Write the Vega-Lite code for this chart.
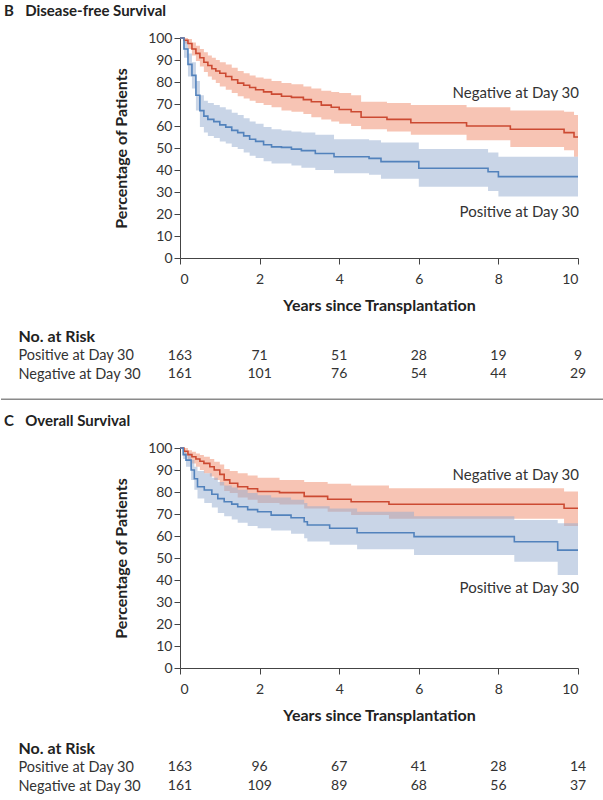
{
  "$schema": "https://vega.github.io/schema/vega-lite/v6.json",
  "padding": {"left": 0, "top": 4, "right": 0, "bottom": 0},
  "spacing": 0,
  "config": {
    "font": "Lato",
    "view": {"stroke": null},
    "axis": {
      "grid": false,
      "labelFont": "Lato",
      "labelFontSize": 14,
      "labelColor": "#333",
      "labelOverlap": false,
      "tickColor": "#444",
      "domainColor": "#444",
      "tickSize": 6,
      "titleFont": "Lato",
      "titleFontSize": 16,
      "titleFontWeight": "bold",
      "titleColor": "#222"
    },
    "title": {"font": "Lato", "fontSize": 15, "fontWeight": "bold", "color": "#222"}
  },
  "datasets": {
    "km": [
      {"panel":"B","group":"Negative","t":0,"s":100,"lo":100,"hi":100},
      {"panel":"B","group":"Negative","t":0.1,"s":99,"lo":97.5,"hi":100},
      {"panel":"B","group":"Negative","t":0.2,"s":97.5,"lo":95,"hi":99.5},
      {"panel":"B","group":"Negative","t":0.3,"s":95,"lo":92,"hi":98},
      {"panel":"B","group":"Negative","t":0.4,"s":93,"lo":89.5,"hi":96.5},
      {"panel":"B","group":"Negative","t":0.5,"s":91,"lo":87,"hi":95},
      {"panel":"B","group":"Negative","t":0.6,"s":89,"lo":84.5,"hi":93.5},
      {"panel":"B","group":"Negative","t":0.7,"s":87.5,"lo":82.5,"hi":92},
      {"panel":"B","group":"Negative","t":0.8,"s":86,"lo":81,"hi":91},
      {"panel":"B","group":"Negative","t":0.9,"s":85,"lo":79.5,"hi":90},
      {"panel":"B","group":"Negative","t":1.0,"s":84,"lo":78,"hi":89},
      {"panel":"B","group":"Negative","t":1.15,"s":82.5,"lo":76.5,"hi":88},
      {"panel":"B","group":"Negative","t":1.3,"s":81,"lo":75,"hi":86.5},
      {"panel":"B","group":"Negative","t":1.45,"s":79.5,"lo":73.5,"hi":85},
      {"panel":"B","group":"Negative","t":1.6,"s":78.5,"lo":72.5,"hi":84},
      {"panel":"B","group":"Negative","t":1.75,"s":77.5,"lo":71.5,"hi":83},
      {"panel":"B","group":"Negative","t":1.9,"s":76.5,"lo":70.5,"hi":82},
      {"panel":"B","group":"Negative","t":2.1,"s":75.5,"lo":69.5,"hi":81.5},
      {"panel":"B","group":"Negative","t":2.3,"s":74.5,"lo":68.5,"hi":80.5},
      {"panel":"B","group":"Negative","t":2.55,"s":73.5,"lo":67,"hi":79.5},
      {"panel":"B","group":"Negative","t":2.8,"s":73,"lo":66.5,"hi":79},
      {"panel":"B","group":"Negative","t":3.1,"s":72,"lo":65.5,"hi":78},
      {"panel":"B","group":"Negative","t":3.3,"s":71,"lo":64,"hi":77},
      {"panel":"B","group":"Negative","t":3.55,"s":69.5,"lo":63,"hi":76},
      {"panel":"B","group":"Negative","t":3.8,"s":68.5,"lo":62,"hi":75.5},
      {"panel":"B","group":"Negative","t":4.0,"s":67.5,"lo":61,"hi":75},
      {"panel":"B","group":"Negative","t":4.3,"s":66.5,"lo":60,"hi":74},
      {"panel":"B","group":"Negative","t":4.55,"s":64,"lo":58.5,"hi":71},
      {"panel":"B","group":"Negative","t":5.2,"s":63,"lo":57.5,"hi":70.5},
      {"panel":"B","group":"Negative","t":5.8,"s":61.5,"lo":56,"hi":69.5},
      {"panel":"B","group":"Negative","t":7.2,"s":60,"lo":53.5,"hi":68.5},
      {"panel":"B","group":"Negative","t":8.3,"s":58.5,"lo":50.5,"hi":67},
      {"panel":"B","group":"Negative","t":9.65,"s":57,"lo":49,"hi":66.5},
      {"panel":"B","group":"Negative","t":9.9,"s":55,"lo":46,"hi":65},
      {"panel":"B","group":"Negative","t":10,"s":55,"lo":46,"hi":65},

      {"panel":"B","group":"Positive","t":0,"s":100,"lo":100,"hi":100},
      {"panel":"B","group":"Positive","t":0.1,"s":95,"lo":91,"hi":98.5},
      {"panel":"B","group":"Positive","t":0.2,"s":88,"lo":82.5,"hi":93},
      {"panel":"B","group":"Positive","t":0.3,"s":83,"lo":77,"hi":89},
      {"panel":"B","group":"Positive","t":0.4,"s":74,"lo":67,"hi":80.5},
      {"panel":"B","group":"Positive","t":0.5,"s":67,"lo":59.5,"hi":74},
      {"panel":"B","group":"Positive","t":0.6,"s":64.5,"lo":57,"hi":71.5},
      {"panel":"B","group":"Positive","t":0.7,"s":63,"lo":55.5,"hi":70.5},
      {"panel":"B","group":"Positive","t":0.85,"s":62,"lo":54.5,"hi":69.5},
      {"panel":"B","group":"Positive","t":1.0,"s":60.5,"lo":53,"hi":68.5},
      {"panel":"B","group":"Positive","t":1.15,"s":59.5,"lo":52,"hi":67.5},
      {"panel":"B","group":"Positive","t":1.3,"s":58,"lo":50.5,"hi":66},
      {"panel":"B","group":"Positive","t":1.45,"s":57,"lo":49.5,"hi":65},
      {"panel":"B","group":"Positive","t":1.6,"s":55.5,"lo":48,"hi":63.5},
      {"panel":"B","group":"Positive","t":1.75,"s":54,"lo":46.5,"hi":62},
      {"panel":"B","group":"Positive","t":1.9,"s":53,"lo":45.5,"hi":61},
      {"panel":"B","group":"Positive","t":2.1,"s":51.5,"lo":44,"hi":59.5},
      {"panel":"B","group":"Positive","t":2.3,"s":50.5,"lo":43,"hi":58.5},
      {"panel":"B","group":"Positive","t":2.55,"s":50.3,"lo":43,"hi":58},
      {"panel":"B","group":"Positive","t":2.8,"s":49.5,"lo":42,"hi":57.5},
      {"panel":"B","group":"Positive","t":3.05,"s":48.8,"lo":41,"hi":57},
      {"panel":"B","group":"Positive","t":3.4,"s":47.5,"lo":40,"hi":56},
      {"panel":"B","group":"Positive","t":3.87,"s":46,"lo":38.5,"hi":54},
      {"panel":"B","group":"Positive","t":4.75,"s":45.3,"lo":37.8,"hi":53.5},
      {"panel":"B","group":"Positive","t":5.05,"s":43.8,"lo":36,"hi":52.5},
      {"panel":"B","group":"Positive","t":6.0,"s":40.8,"lo":32.4,"hi":49.5},
      {"panel":"B","group":"Positive","t":7.74,"s":39.2,"lo":30.5,"hi":48},
      {"panel":"B","group":"Positive","t":8.0,"s":37,"lo":27.9,"hi":46},
      {"panel":"B","group":"Positive","t":10,"s":37,"lo":27.9,"hi":46},

      {"panel":"C","group":"Negative","t":0,"s":100,"lo":100,"hi":100},
      {"panel":"C","group":"Negative","t":0.1,"s":98.5,"lo":96.5,"hi":100},
      {"panel":"C","group":"Negative","t":0.2,"s":97,"lo":94.5,"hi":99},
      {"panel":"C","group":"Negative","t":0.3,"s":96,"lo":93,"hi":98.3},
      {"panel":"C","group":"Negative","t":0.4,"s":95,"lo":91.5,"hi":97.5},
      {"panel":"C","group":"Negative","t":0.5,"s":94,"lo":90,"hi":96.8},
      {"panel":"C","group":"Negative","t":0.6,"s":93,"lo":88.5,"hi":96},
      {"panel":"C","group":"Negative","t":0.75,"s":91.5,"lo":87,"hi":95},
      {"panel":"C","group":"Negative","t":0.86,"s":90,"lo":85.5,"hi":93.8},
      {"panel":"C","group":"Negative","t":1.0,"s":88,"lo":83,"hi":92.5},
      {"panel":"C","group":"Negative","t":1.11,"s":85.5,"lo":80.5,"hi":90.5},
      {"panel":"C","group":"Negative","t":1.25,"s":84,"lo":79.5,"hi":89.5},
      {"panel":"C","group":"Negative","t":1.45,"s":82.4,"lo":77.5,"hi":88.5},
      {"panel":"C","group":"Negative","t":1.7,"s":81.5,"lo":76.5,"hi":87.5},
      {"panel":"C","group":"Negative","t":1.95,"s":80.2,"lo":75,"hi":86.5},
      {"panel":"C","group":"Negative","t":2.5,"s":79.7,"lo":74.3,"hi":85.5},
      {"panel":"C","group":"Negative","t":3.12,"s":78,"lo":72.5,"hi":84.5},
      {"panel":"C","group":"Negative","t":3.71,"s":76.7,"lo":71,"hi":83.8},
      {"panel":"C","group":"Negative","t":4.3,"s":75.6,"lo":69.5,"hi":83},
      {"panel":"C","group":"Negative","t":5.25,"s":74.4,"lo":67.8,"hi":81.7},
      {"panel":"C","group":"Negative","t":9.65,"s":72.6,"lo":64.5,"hi":80.2},
      {"panel":"C","group":"Negative","t":10,"s":72.6,"lo":64.5,"hi":80.2},

      {"panel":"C","group":"Positive","t":0,"s":100,"lo":100,"hi":100},
      {"panel":"C","group":"Positive","t":0.08,"s":97,"lo":95,"hi":99},
      {"panel":"C","group":"Positive","t":0.15,"s":94.5,"lo":91.5,"hi":97.5},
      {"panel":"C","group":"Positive","t":0.28,"s":90,"lo":85.5,"hi":94.5},
      {"panel":"C","group":"Positive","t":0.36,"s":86,"lo":81,"hi":91.5},
      {"panel":"C","group":"Positive","t":0.44,"s":82.4,"lo":77,"hi":89.5},
      {"panel":"C","group":"Positive","t":0.61,"s":80.9,"lo":75,"hi":88.5},
      {"panel":"C","group":"Positive","t":0.8,"s":79,"lo":73,"hi":86.5},
      {"panel":"C","group":"Positive","t":0.95,"s":77,"lo":70.5,"hi":84.5},
      {"panel":"C","group":"Positive","t":1.11,"s":75.6,"lo":69,"hi":83},
      {"panel":"C","group":"Positive","t":1.3,"s":74.5,"lo":67.5,"hi":82},
      {"panel":"C","group":"Positive","t":1.45,"s":73.3,"lo":66,"hi":81},
      {"panel":"C","group":"Positive","t":1.7,"s":72,"lo":64.5,"hi":79.5},
      {"panel":"C","group":"Positive","t":1.95,"s":71,"lo":63.5,"hi":78.5},
      {"panel":"C","group":"Positive","t":2.29,"s":69.5,"lo":62.5,"hi":77.5},
      {"panel":"C","group":"Positive","t":2.79,"s":68.3,"lo":61,"hi":76.5},
      {"panel":"C","group":"Positive","t":3.12,"s":66.5,"lo":59,"hi":75},
      {"panel":"C","group":"Positive","t":3.2,"s":65,"lo":57.5,"hi":73.5},
      {"panel":"C","group":"Positive","t":3.76,"s":63.5,"lo":56,"hi":72.5},
      {"panel":"C","group":"Positive","t":4.45,"s":61.5,"lo":54,"hi":71},
      {"panel":"C","group":"Positive","t":5.88,"s":59.7,"lo":51.4,"hi":69},
      {"panel":"C","group":"Positive","t":8.4,"s":57.4,"lo":48.3,"hi":67.3},
      {"panel":"C","group":"Positive","t":9.49,"s":53.6,"lo":42.3,"hi":65.8},
      {"panel":"C","group":"Positive","t":10,"s":53.6,"lo":42.3,"hi":65.8}
    ],
    "risk": [
      {"panel":"B","group":"Positive at Day 30","year":0,"n":163},
      {"panel":"B","group":"Positive at Day 30","year":2,"n":71},
      {"panel":"B","group":"Positive at Day 30","year":4,"n":51},
      {"panel":"B","group":"Positive at Day 30","year":6,"n":28},
      {"panel":"B","group":"Positive at Day 30","year":8,"n":19},
      {"panel":"B","group":"Positive at Day 30","year":10,"n":9},
      {"panel":"B","group":"Negative at Day 30","year":0,"n":161},
      {"panel":"B","group":"Negative at Day 30","year":2,"n":101},
      {"panel":"B","group":"Negative at Day 30","year":4,"n":76},
      {"panel":"B","group":"Negative at Day 30","year":6,"n":54},
      {"panel":"B","group":"Negative at Day 30","year":8,"n":44},
      {"panel":"B","group":"Negative at Day 30","year":10,"n":29},
      {"panel":"C","group":"Positive at Day 30","year":0,"n":163},
      {"panel":"C","group":"Positive at Day 30","year":2,"n":96},
      {"panel":"C","group":"Positive at Day 30","year":4,"n":67},
      {"panel":"C","group":"Positive at Day 30","year":6,"n":41},
      {"panel":"C","group":"Positive at Day 30","year":8,"n":28},
      {"panel":"C","group":"Positive at Day 30","year":10,"n":14},
      {"panel":"C","group":"Negative at Day 30","year":0,"n":161},
      {"panel":"C","group":"Negative at Day 30","year":2,"n":109},
      {"panel":"C","group":"Negative at Day 30","year":4,"n":89},
      {"panel":"C","group":"Negative at Day 30","year":6,"n":68},
      {"panel":"C","group":"Negative at Day 30","year":8,"n":56},
      {"panel":"C","group":"Negative at Day 30","year":10,"n":37}
    ]
  },
  "vconcat": [
    {
      "width": 398,
      "height": 220,
      "title": {"text": "B\u2003Disease-free Survival", "anchor": "start", "frame": "group", "dx": -176, "offset": 12},
      "resolve": {"axis": {"x": "independent", "y": "independent"}},
      "layer": [
        {
          "data": {"name": "km"},
          "transform": [{"filter": "datum.panel == 'B'"}],
          "mark": {"type": "area", "interpolate": "step-after", "opacity": 0.5},
          "encoding": {
            "x": {"field": "t", "type": "quantitative", "scale": {"domain": [0, 10], "nice": false},
                  "axis": {"values": [0, 2, 4, 6, 8, 10], "title": "Years since Transplantation", "labelPadding": 8, "titlePadding": 11}},
            "y": {"field": "lo", "type": "quantitative", "scale": {"domain": [0, 100], "nice": false},
                  "axis": {"values": [0,10,20,30,40,50,60,70,80,90,100], "title": "Percentage of Patients", "labelPadding": 2, "titlePadding": 18}},
            "y2": {"field": "hi"},
            "fill": {"field": "group", "type": "nominal", "scale": {"domain": ["Negative", "Positive"], "range": ["#f08a6a", "#93acd0"]}, "legend": null}
          }
        },
        {
          "data": {"name": "km"},
          "transform": [{"filter": "datum.panel == 'B'"}],
          "mark": {"type": "line", "interpolate": "step-after", "strokeWidth": 1.6},
          "encoding": {
            "x": {"field": "t", "type": "quantitative", "axis": null},
            "y": {"field": "s", "type": "quantitative", "axis": null},
            "stroke": {"field": "group", "type": "nominal", "scale": {"domain": ["Negative", "Positive"], "range": ["#cc4a32", "#5282bc"]}, "legend": null}
          }
        },
        {
          "data": {"values": [{}]},
          "mark": {"type": "text", "align": "right", "baseline": "middle", "fontSize": 15, "color": "#333", "dx": 1},
          "encoding": {"x": {"datum": 10, "type": "quantitative", "axis": null}, "y": {"datum": 75, "type": "quantitative", "axis": null}, "text": {"value": "Negative at Day 30"}}
        },
        {
          "data": {"values": [{}]},
          "mark": {"type": "text", "align": "right", "baseline": "middle", "fontSize": 15, "color": "#333", "dx": 1},
          "encoding": {"x": {"datum": 10, "type": "quantitative", "axis": null}, "y": {"datum": 21, "type": "quantitative", "axis": null}, "text": {"value": "Positive at Day 30"}}
        }
      ]
    },
    {
      "width": 398,
      "height": 74.8,
      "data": {"name": "risk"},
      "transform": [{"filter": "datum.panel == 'B'"}],
      "mark": {"type": "text", "fontSize": 14, "color": "#333", "align": "center", "baseline": "middle"},
      "encoding": {
        "x": {"field": "year", "type": "quantitative", "scale": {"domain": [0, 10], "nice": false}, "axis": null},
        "y": {"field": "group", "type": "nominal",
              "scale": {"type": "point", "domain": ["No. at Risk", "Positive at Day 30", "Negative at Day 30"], "padding": 1, "align": 0.64},
              "axis": {"title": null, "domain": false, "ticks": false, "tickSize": 0, "labelAlign": "left", "labelPadding": 162, "labelFontSize": {"condition": {"test": "datum.value == 'No. at Risk'", "value": 16}, "value": 14.5},
                       "labelFontWeight": {"condition": {"test": "datum.value == 'No. at Risk'", "value": "bold"}, "value": "normal"},
                       "labelColor": {"condition": {"test": "datum.value == 'No. at Risk'", "value": "#222"}, "value": "#333"}}},
        "text": {"field": "n", "type": "quantitative"}
      }
    },
    {
      "width": 398,
      "height": 25.2,
      "data": {"values": [{}]},
      "mark": {"type": "rule", "color": "#8a8a8a", "strokeWidth": 1.5},
      "encoding": {
        "x": {"datum": -4.497, "type": "quantitative", "scale": {"domain": [0, 10], "nice": false}, "axis": null},
        "x2": {"datum": 10.653},
        "y": {"datum": 0.556, "type": "quantitative", "scale": {"domain": [0, 1]}, "axis": null}
      }
    },
    {
      "width": 398,
      "height": 220,
      "title": {"text": "C\u2003Overall Survival", "anchor": "start", "frame": "group", "dx": -176, "offset": 12},
      "resolve": {"axis": {"x": "independent", "y": "independent"}},
      "layer": [
        {
          "data": {"name": "km"},
          "transform": [{"filter": "datum.panel == 'C'"}],
          "mark": {"type": "area", "interpolate": "step-after", "opacity": 0.5},
          "encoding": {
            "x": {"field": "t", "type": "quantitative", "scale": {"domain": [0, 10], "nice": false},
                  "axis": {"values": [0, 2, 4, 6, 8, 10], "title": "Years since Transplantation", "labelPadding": 8, "titlePadding": 11}},
            "y": {"field": "lo", "type": "quantitative", "scale": {"domain": [0, 100], "nice": false},
                  "axis": {"values": [0,10,20,30,40,50,60,70,80,90,100], "title": "Percentage of Patients", "labelPadding": 2, "titlePadding": 18}},
            "y2": {"field": "hi"},
            "fill": {"field": "group", "type": "nominal", "scale": {"domain": ["Negative", "Positive"], "range": ["#f08a6a", "#93acd0"]}, "legend": null}
          }
        },
        {
          "data": {"name": "km"},
          "transform": [{"filter": "datum.panel == 'C'"}],
          "mark": {"type": "line", "interpolate": "step-after", "strokeWidth": 1.6},
          "encoding": {
            "x": {"field": "t", "type": "quantitative", "axis": null},
            "y": {"field": "s", "type": "quantitative", "axis": null},
            "stroke": {"field": "group", "type": "nominal", "scale": {"domain": ["Negative", "Positive"], "range": ["#cc4a32", "#5282bc"]}, "legend": null}
          }
        },
        {
          "data": {"values": [{}]},
          "mark": {"type": "text", "align": "right", "baseline": "middle", "fontSize": 15, "color": "#333", "dx": 1},
          "encoding": {"x": {"datum": 10, "type": "quantitative", "axis": null}, "y": {"datum": 87.7, "type": "quantitative", "axis": null}, "text": {"value": "Negative at Day 30"}}
        },
        {
          "data": {"values": [{}]},
          "mark": {"type": "text", "align": "right", "baseline": "middle", "fontSize": 15, "color": "#333", "dx": 1},
          "encoding": {"x": {"datum": 10, "type": "quantitative", "axis": null}, "y": {"datum": 36.2, "type": "quantitative", "axis": null}, "text": {"value": "Positive at Day 30"}}
        }
      ]
    },
    {
      "width": 398,
      "height": 68,
      "data": {"name": "risk"},
      "transform": [{"filter": "datum.panel == 'C'"}],
      "mark": {"type": "text", "fontSize": 14, "color": "#333", "align": "center", "baseline": "middle"},
      "encoding": {
        "x": {"field": "year", "type": "quantitative", "scale": {"domain": [0, 10], "nice": false}, "axis": null},
        "y": {"field": "group", "type": "nominal",
              "scale": {"type": "point", "domain": ["No. at Risk", "Positive at Day 30", "Negative at Day 30"], "padding": 0.829, "align": 0.839},
              "axis": {"title": null, "domain": false, "ticks": false, "tickSize": 0, "labelAlign": "left", "labelPadding": 162, "labelFontSize": {"condition": {"test": "datum.value == 'No. at Risk'", "value": 16}, "value": 14.5},
                       "labelFontWeight": {"condition": {"test": "datum.value == 'No. at Risk'", "value": "bold"}, "value": "normal"},
                       "labelColor": {"condition": {"test": "datum.value == 'No. at Risk'", "value": "#222"}, "value": "#333"}}},
        "text": {"field": "n", "type": "quantitative"}
      }
    }
  ]
}
